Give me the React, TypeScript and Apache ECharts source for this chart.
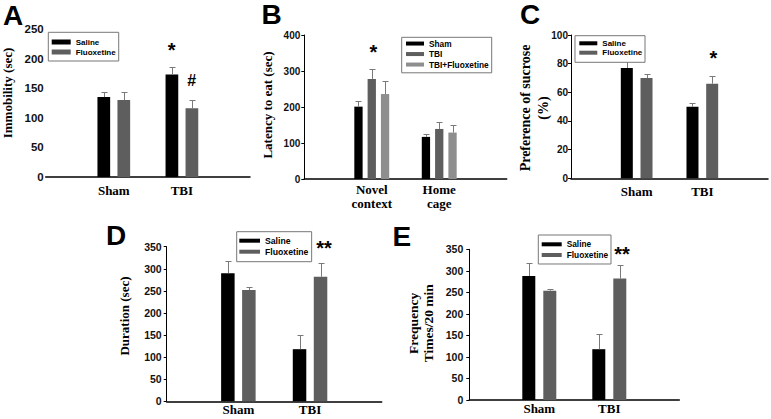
import React, { useEffect, useRef } from "react";
import * as echarts from "echarts";

// ---- Data ----
const groups = ["Sham", "TBI"];
const bGroups = ["Novel\ncontext", "Home\ncage"];

// A: Immobility (sec)
const aSaline = [135, 173];
const aSalineSem = [8, 12];
const aFluox = [130, 116];
const aFluoxSem = [13, 14];

// B: Latency to eat (sec)
const bSham = [201, 117];
const bShamSem = [16, 7];
const bTbi = [278, 139];
const bTbiSem = [28, 18];
const bTbiFlx = [236, 129];
const bTbiFlxSem = [37, 20];

// C: Preference of sucrose (%)
const cSaline = [77, 50];
const cSalineSem = [4.6, 2.3];
const cFluox = [70, 66];
const cFluoxSem = [2.6, 5.3];

// D: Duration (sec)
const dSaline = [290, 118];
const dSalineSem = [28, 33];
const dFluox = [252, 282];
const dFluoxSem = [6, 32];

// E: Frequency Times/20 min
const eSaline = [288, 118];
const eSalineSem = [31, 35];
const eFluox = [254, 282];
const eFluoxSem = [4, 31];

const BLACK = "#000000";
const GRAY = "#5e5e5e";
const LIGHT = "#8e8e8e";
const SANS = "Liberation Sans";
const SERIF = "Liberation Serif";

type S = { name: string; values: number[]; sem: number[]; color: string };
type Panel = {
  cats: string[];
  series: S[];
  grid: { left: number; top: number; width: number; height: number };
  max: number;
  interval: number;
  barWidth: number;
  step: number;
  labelSize: number;
  labelMargin: number;
  showYLine: boolean;
  catMargin: number;
  legend: { left: number; top: number; padding: number[]; fontSize: number; lineHeight: number; itemWidth: number; itemHeight: number };
};

const panels: Panel[] = [
  {
    cats: groups,
    series: [
      { name: "Saline", values: aSaline, sem: aSalineSem, color: BLACK },
      { name: "Fluoxetine", values: aFluox, sem: aFluoxSem, color: GRAY },
    ],
    grid: { left: 45.7, top: 29, width: 204.3, height: 148 },
    max: 250, interval: 50, barWidth: 12.7, step: 20, labelSize: 11.5, labelMargin: 2, showYLine: false, catMargin: 6,
    legend: { left: 48.3, top: 32.3, padding: [4.7, 3, 4, 3.4], fontSize: 8, lineHeight: 10, itemWidth: 19, itemHeight: 5 },
  },
  {
    cats: bGroups,
    series: [
      { name: "Sham", values: bSham, sem: bShamSem, color: BLACK },
      { name: "TBI", values: bTbi, sem: bTbiSem, color: GRAY },
      { name: "TBI+Fluoxetine", values: bTbiFlx, sem: bTbiFlxSem, color: LIGHT },
    ],
    grid: { left: 304.3, top: 35, width: 202.4, height: 144 },
    max: 400, interval: 100, barWidth: 8.3, step: 13.3, labelSize: 10, labelMargin: 4, showYLine: true, catMargin: 3.5,
    legend: { left: 401.7, top: 37.3, padding: [1, 3, 3, 4.3], fontSize: 8.3, lineHeight: 10.5, itemWidth: 18, itemHeight: 4 },
  },
  {
    cats: groups,
    series: [
      { name: "Saline", values: cSaline, sem: cSalineSem, color: BLACK },
      { name: "Fluoxetine", values: cFluox, sem: cFluoxSem, color: GRAY },
    ],
    grid: { left: 571, top: 35, width: 200, height: 143.3 },
    max: 100, interval: 20, barWidth: 12, step: 19.7, labelSize: 10, labelMargin: 3, showYLine: true, catMargin: 6,
    legend: { left: 575, top: 35.7, padding: [2.9, 2.7, 4.9, 4.3], fontSize: 8, lineHeight: 9.4, itemWidth: 18, itemHeight: 4 },
  },
  {
    cats: groups,
    series: [
      { name: "Saline", values: dSaline, sem: dSalineSem, color: BLACK },
      { name: "Fluoxetine", values: dFluox, sem: dFluoxSem, color: GRAY },
    ],
    grid: { left: 166.7, top: 246.7, width: 215, height: 154.6 },
    max: 350, interval: 50, barWidth: 13.5, step: 21, labelSize: 10.5, labelMargin: 5, showYLine: true, catMargin: 1,
    legend: { left: 236.7, top: 231.7, padding: [3.5, 3.2, 4.5, 2.6], fontSize: 8.7, lineHeight: 11, itemWidth: 20.7, itemHeight: 4 },
  },
  {
    cats: groups,
    series: [
      { name: "Saline", values: eSaline, sem: eSalineSem, color: BLACK },
      { name: "Fluoxetine", values: eFluox, sem: eFluoxSem, color: GRAY },
    ],
    grid: { left: 469.3, top: 249.3, width: 210, height: 150.7 },
    max: 350, interval: 50, barWidth: 13, step: 21, labelSize: 10.5, labelMargin: 6, showYLine: true, catMargin: 1,
    legend: { left: 538.3, top: 235, padding: [3.95, 2.8, 3.65, 3.4], fontSize: 8.3, lineHeight: 10.7, itemWidth: 20, itemHeight: 4 },
  },
];

function buildOption() {
  const grid: any[] = [];
  const xAxis: any[] = [];
  const yAxis: any[] = [];
  const series: any[] = [];
  const legend: any[] = [];

  panels.forEach((p, pi) => {
    grid.push({ ...p.grid, containLabel: false });
    xAxis.push({
      type: "category",
      gridIndex: pi,
      data: ["", ...p.cats, ""],
      boundaryGap: false,
      axisLine: { show: true, lineStyle: { color: "#000", width: 1.5 } },
      axisTick: { show: false },
      axisLabel: {
        interval: 0,
        margin: p.catMargin,
        fontFamily: SERIF,
        fontWeight: "bold",
        fontSize: 13,
        lineHeight: 14,
        color: "#000",
      },
      splitLine: { show: false },
    });
    yAxis.push({
      type: "value",
      gridIndex: pi,
      min: 0,
      max: p.max,
      interval: p.interval,
      axisLine: { show: p.showYLine, lineStyle: { color: "#000", width: 1 } },
      axisTick: { show: p.showYLine, length: 3, lineStyle: { color: "#000" } },
      axisLabel: {
        margin: p.labelMargin,
        fontFamily: SANS,
        fontWeight: "bold",
        fontSize: p.labelSize,
        color: "#111",
      },
      splitLine: { show: false },
    });
    const n = p.series.length;
    const gapPct = ((p.step - p.barWidth) / p.barWidth) * 100 + "%";
    p.series.forEach((s) => {
      series.push({
        type: "bar",
        name: s.name,
        xAxisIndex: pi,
        yAxisIndex: pi,
        data: ["-", ...s.values, "-"],
        barWidth: p.barWidth,
        barGap: gapPct,
        itemStyle: { color: s.color },
        z: 2,
      });
    });
    p.series.forEach((s, si) => {
      const offset = (si - (n - 1) / 2) * p.step;
      series.push({
        type: "custom",
        name: s.name + " SEM",
        xAxisIndex: pi,
        yAxisIndex: pi,
        z: 3,
        data: s.values.map((v, i) => [i + 1, v, s.sem[i]]),
        renderItem: (params: any, api: any) => {
          const c = api.value(0);
          const m = api.value(1);
          const e = api.value(2);
          const b = api.coord([c, m]);
          const t = api.coord([c, m + e]);
          const x = Math.round(b[0] + offset) + 0.5;
          const ty = Math.round(t[1]) + 0.5;
          const st = { stroke: "#7a7a7a", lineWidth: 1 };
          return {
            type: "group",
            children: [
              { type: "line", shape: { x1: x, y1: b[1], x2: x, y2: ty }, style: st },
              { type: "line", shape: { x1: x - 3, y1: ty, x2: x + 3, y2: ty }, style: st },
            ],
          };
        },
      });
    });
    legend.push({
      data: p.series.map((s) => s.name),
      orient: "vertical",
      left: p.legend.left,
      top: p.legend.top,
      padding: p.legend.padding,
      itemGap: 0,
      itemWidth: p.legend.itemWidth,
      itemHeight: p.legend.itemHeight,
      icon: "rect",
      selectedMode: false,
      borderColor: "#777",
      borderWidth: 1,
      backgroundColor: "#fff",
      textStyle: {
        fontFamily: SANS,
        fontWeight: "bold",
        fontSize: p.legend.fontSize,
        lineHeight: p.legend.lineHeight,
        color: "#000",
      },
    });
  });

  const letter = (t: string, x: number, y: number) => ({
    type: "text",
    x,
    y,
    style: { text: t, fontFamily: SANS, fontWeight: "bold", fontSize: 28, fill: "#000", align: "left", verticalAlign: "middle" },
  });
  const ytitle = (t: string, x: number, y: number, size = 13, lh = 15) => ({
    type: "text",
    x,
    y,
    rotation: Math.PI / 2,
    style: { text: t, fontFamily: SERIF, fontWeight: "bold", fontSize: size, lineHeight: lh, fill: "#000", align: "center", verticalAlign: "middle" },
  });
  const mark = (t: string, x: number, y: number, size = 20) => ({
    type: "text",
    x,
    y,
    style: { text: t, fontFamily: SANS, fontWeight: "bold", fontSize: size, fill: "#000", align: "center", verticalAlign: "middle" },
  });

  const graphic = [
    letter("A", 3, 15),
    letter("B", 261.5, 14),
    letter("C", 520, 14),
    letter("D", 106, 235),
    letter("E", 392.5, 236),
    ytitle("Immobility (sec)", 7, 93),
    ytitle("Latency to eat (sec)", 267, 105),
    ytitle("Preference of sucrose\n(%)", 534, 108, 14, 18),
    ytitle("Duration (sec)", 124.7, 316),
    ytitle("Frequency\nTimes/20 min", 420.8, 323.3, 13.5, 15),
    mark("*", 171.7, 49.5),
    mark("#", 191.7, 80, 16),
    mark("*", 373.3, 52),
    mark("*", 713.3, 57.8),
    mark("**", 324, 248),
    mark("**", 622, 254),
  ];

  return {
    animation: false,
    backgroundColor: "#ffffff",
    grid,
    xAxis,
    yAxis,
    series,
    legend,
    graphic,
  };
}

export default function App() {
  const ref = useRef<HTMLDivElement>(null);
  useEffect(() => {
    if (!ref.current) return;
    const chart = echarts.init(ref.current, null, { renderer: "svg" });
    chart.setOption(buildOption() as any);
    return () => chart.dispose();
  }, []);
  return (
    <div
      ref={ref}
      style={{ position: "absolute", left: 0, top: 0, width: 771, height: 419, background: "#fff" }}
    />
  );
}
